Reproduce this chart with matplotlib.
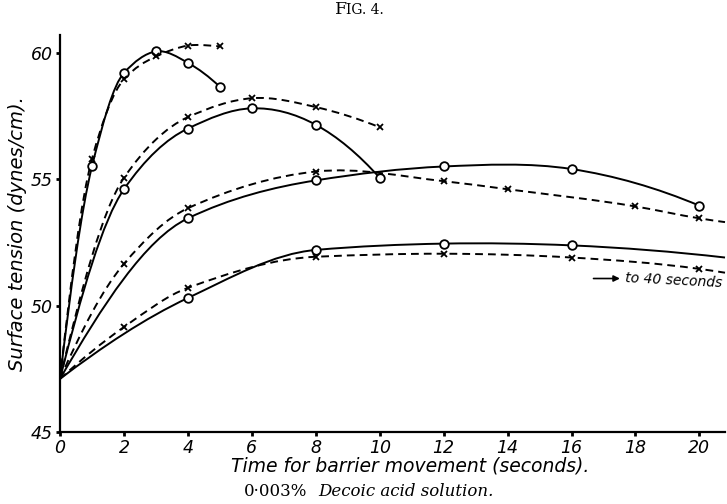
# surface tension vs barrier movement time, 0.003% decoic acid (Fig. 4)
import numpy as np
import matplotlib
matplotlib.use("Agg")
import matplotlib.pyplot as plt
from matplotlib.path import Path
from matplotlib.patches import PathPatch

plt.rcParams["font.family"] = ["DejaVu Sans"]
plt.rcParams["font.style"] = "italic"

# every curve starts from the same value at t = 0
t0 = 0
st0 = 47.1
x_end = 20.8   # where the long curves run off the right edge

# curve A (fastest)
a_o_t = [1, 2, 3, 4, 5]
a_o = [55.5, 59.2, 60.05, 59.6, 58.65]
a_x_t = [1, 2, 3, 4, 5]
a_x = [55.8, 58.95, 59.85, 60.28, 60.25]

# curve B
b_o_t = [2, 4, 6, 8, 10]
b_o = [54.6, 57.0, 57.8, 57.15, 55.05]
b_x_t = [2, 4, 6, 8, 10]
b_x = [55.05, 57.45, 58.2, 57.85, 57.05]

# curve C
c_o_t = [4, 8, 12, 16, 20]
c_o = [53.45, 54.95, 55.5, 55.4, 53.95]
c_x_t = [2, 4, 8, 12, 14, 18, 20]
c_x = [51.65, 53.85, 55.3, 54.92, 54.6, 53.92, 53.45]
c_x_tail = 53.3

# curve D (slowest)
d_o_t = [4, 8, 12, 16]
d_o = [50.3, 52.2, 52.45, 52.38]
d_o_tail = 51.9
d_x_t = [2, 4, 8, 12, 16, 20]
d_x = [49.15, 50.7, 51.93, 52.05, 51.9, 51.45]
d_x_tail = 51.3

xticks = list(range(0, 21, 2))
yticks = [45, 50, 55, 60]


def slopes(xs, ys):
    # parabolic slopes, softened where the curve is levelling off
    h = np.diff(xs)
    d = np.diff(ys) / h
    m = np.gradient(ys, xs, edge_order=2)
    for i in range(1, len(xs) - 1):
        a, b = d[i - 1], d[i]
        if a * b > 0 and abs(a) > abs(b):
            w1 = 2 * h[i] + h[i - 1]
            w2 = h[i] + 2 * h[i - 1]
            m[i] = (w1 + w2) / (w1 / a + w2 / b)
    for i, d0, d1 in [(0, d[0], d[1]), (-1, d[-1], d[-2])]:
        if np.sign(m[i]) != np.sign(d0):
            m[i] = 0
        elif np.sign(d0) != np.sign(d1) and abs(m[i]) > 3 * abs(d0):
            m[i] = 3 * d0
    return m


def smooth_path(xs, ys):
    # cubic bezier through the points
    xs = np.asarray(xs, float)
    ys = np.asarray(ys, float)
    m = slopes(xs, ys)
    verts = [(xs[0], ys[0])]
    codes = [Path.MOVETO]
    for i in range(len(xs) - 1):
        h = xs[i + 1] - xs[i]
        verts += [(xs[i] + h / 3, ys[i] + m[i] * h / 3),
                  (xs[i + 1] - h / 3, ys[i + 1] - m[i + 1] * h / 3),
                  (xs[i + 1], ys[i + 1])]
        codes += [Path.CURVE4] * 3
    return Path(verts, codes)


fig = plt.figure(figsize=(7.27, 5.04), dpi=100)
ax = fig.add_axes([60 / 727, 1 - 432 / 504, 665 / 727, 397 / 504])
ax.set_xlim(0, x_end)
ax.set_ylim(45, 60.7)

dash = (0, (4, 2.6))


def draw(tt, vv, ls, marker, tail=None):
    xs = [t0] + list(tt)
    ys = [st0] + list(vv)
    if tail is not None:
        xs.append(x_end)
        ys.append(tail)
    ax.add_patch(PathPatch(smooth_path(xs, ys), fill=False, lw=1.4,
                           ls=ls, color="black", clip_on=False))
    if marker == "o":
        ax.plot(tt, vv, "o", ms=6.2, mfc="white", mec="black", mew=1.3,
                clip_on=False, zorder=3)
    else:
        ax.plot(tt, vv, "x", ms=5, color="black", mew=1.3,
                clip_on=False, zorder=3)


draw(a_o_t, a_o, "-", "o")
draw(a_x_t, a_x, dash, "x")
draw(b_o_t, b_o, "-", "o")
draw(b_x_t, b_x, dash, "x")
draw(c_o_t, c_o, "-", "o")
draw(c_x_t, c_x, dash, "x", c_x_tail)
draw(d_o_t, d_o, "-", "o", d_o_tail)
draw(d_x_t, d_x, dash, "x", d_x_tail)

ax.spines["top"].set_visible(False)
ax.spines["right"].set_visible(False)
ax.spines["left"].set_linewidth(1.6)
ax.spines["bottom"].set_linewidth(1.6)
ax.set_xticks(xticks)
ax.set_yticks(yticks)
ax.tick_params(direction="out", length=3, width=2, labelsize=12.5, pad=2)

ax.set_xlabel("Time for barrier movement (seconds).", fontsize=13.5, labelpad=0)
ax.xaxis.set_label_coords((410 - 60) / 665, -0.062)
ax.set_ylabel("Surface tension (dynes/cm).", fontsize=14, labelpad=4)
ax.yaxis.set_label_coords(-0.05, 0.5)

# note on the slow curves
ax.annotate("", xy=(17.6, 51.07), xytext=(16.6, 51.07),
            arrowprops=dict(arrowstyle="-|>", lw=1.2, color="black",
                            mutation_scale=9))
ax.text(20.72, 50.9, "to 40 seconds", fontsize=10, ha="right", va="center",
        rotation=-3, rotation_mode="anchor")

# small-caps style figure title
fig.text(335 / 727, 1 - 14 / 504, "F", family="DejaVu Serif", style="normal",
         fontsize=12.5, ha="left", va="baseline")
fig.text(346 / 727, 1 - 14 / 504, "IG. 4.", family="DejaVu Serif", style="normal",
         fontsize=10, ha="left", va="baseline")
fig.text(244 / 727, 1 - 492 / 504, "0·003%", family="DejaVu Serif",
         style="normal", fontsize=12, ha="left", va="center")
fig.text(318 / 727, 1 - 492 / 504, "Decoic acid solution.", family="DejaVu Serif",
         style="italic", fontsize=12, ha="left", va="center")

fig.savefig("out.png", dpi=100)
